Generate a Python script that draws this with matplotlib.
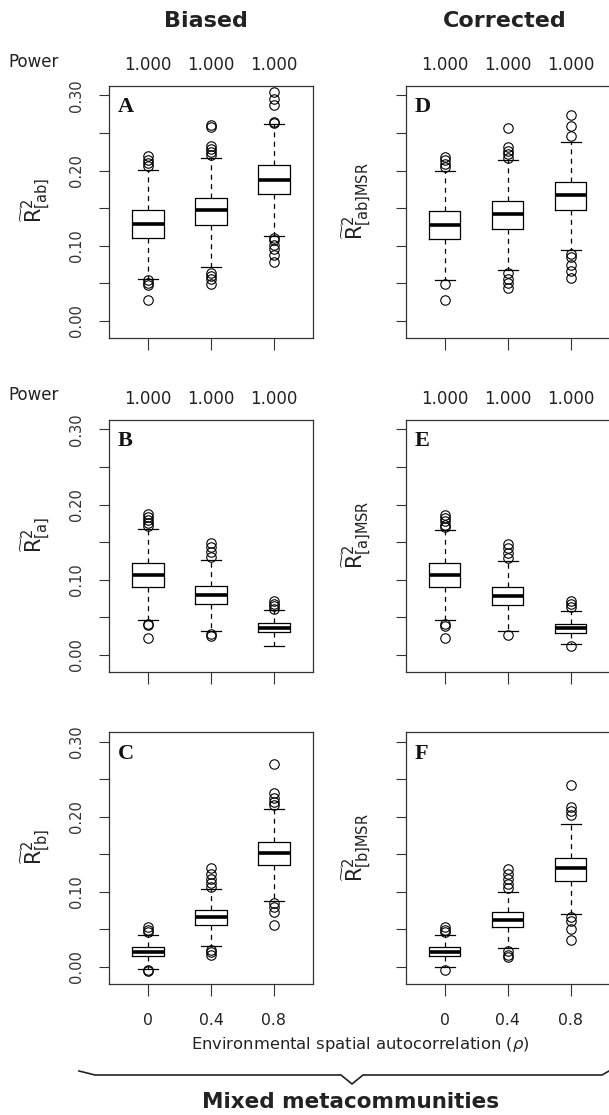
import numpy as np
import matplotlib
matplotlib.use("Agg")
import matplotlib.pyplot as plt
from matplotlib.lines import Line2D

plt.rcParams['font.family'] = ['DejaVu Sans']
plt.rcParams['mathtext.fontset'] = 'dejavusans'

# Panel order: A, B, C (biased) then D, E, F (corrected)
panels = ['A', 'B', 'C', 'D', 'E', 'F']
rho_labels = ['0', '0.4', '0.8']
power = [['1.000', '1.000', '1.000'], ['1.000', '1.000', '1.000'], None,
         ['1.000', '1.000', '1.000'], ['1.000', '1.000', '1.000'], None]
ylabels = [r'$\widetilde{\mathrm{R}}^{2}_{\mathrm{[ab]}}$',
           r'$\widetilde{\mathrm{R}}^{2}_{\mathrm{[a]}}$',
           r'$\widetilde{\mathrm{R}}^{2}_{\mathrm{[b]}}$',
           r'$\widetilde{\mathrm{R}}^{2}_{\mathrm{[ab]MSR}}$',
           r'$\widetilde{\mathrm{R}}^{2}_{\mathrm{[a]MSR}}$',
           r'$\widetilde{\mathrm{R}}^{2}_{\mathrm{[b]MSR}}$']

q1 = [[0.110, 0.127, 0.169], [0.090, 0.067, 0.030], [0.0142, 0.0564, 0.136],
      [0.109, 0.122, 0.148], [0.0895, 0.0662, 0.0291], [0.0142, 0.0531, 0.115]]
med = [[0.129, 0.147, 0.188], [0.1065, 0.079, 0.036], [0.0204, 0.0662, 0.1516],
       [0.128, 0.142, 0.167], [0.1059, 0.0785, 0.0353], [0.0204, 0.0628, 0.1314]]
q3 = [[0.147, 0.164, 0.207], [0.1225, 0.091, 0.042], [0.0267, 0.076, 0.1671],
      [0.146, 0.160, 0.185], [0.1222, 0.0904, 0.041], [0.0261, 0.0726, 0.1456]]
whis_lo = [[0.0556, 0.0716, 0.1133], [0.0466, 0.0315, 0.012], [-0.0022, 0.0284, 0.0876],
           [0.0539, 0.068, 0.0937], [0.0463, 0.0313, 0.0137], [-0.0004, 0.0252, 0.0704]]
whis_hi = [[0.2004, 0.2169, 0.2613], [0.1669, 0.1256, 0.0599], [0.0431, 0.104, 0.2098],
           [0.1993, 0.2143, 0.2386], [0.1663, 0.1248, 0.0587], [0.0429, 0.1004, 0.1898]]
outliers = [
    [[0.219, 0.214, 0.210, 0.206, 0.054, 0.050, 0.047, 0.027],
     [0.260, 0.258, 0.232, 0.228, 0.224, 0.221, 0.064, 0.059, 0.055, 0.049],
     [0.304, 0.295, 0.287, 0.265, 0.263, 0.110, 0.107, 0.101, 0.095, 0.088, 0.078]],
    [[0.188, 0.184, 0.180, 0.176, 0.171, 0.041, 0.039, 0.0226],
     [0.149, 0.144, 0.137, 0.130, 0.027, 0.0244],
     [0.0715, 0.068, 0.0644, 0.061]],
    [[0.0533, 0.0498, 0.0467, -0.0036, -0.0053],
     [0.132, 0.1244, 0.1178, 0.112, 0.1067, 0.0231, 0.020, 0.0156],
     [0.2707, 0.2311, 0.2253, 0.220, 0.2156, 0.0853, 0.080, 0.0733, 0.0564]],
    [[0.218, 0.214, 0.209, 0.205, 0.0486, 0.0274],
     [0.256, 0.231, 0.226, 0.222, 0.217, 0.063, 0.056, 0.050, 0.044],
     [0.274, 0.259, 0.246, 0.089, 0.085, 0.074, 0.066, 0.057]],
    [[0.1866, 0.182, 0.178, 0.173, 0.170, 0.041, 0.0388, 0.0225],
     [0.1478, 0.1425, 0.136, 0.1292, 0.0269],
     [0.071, 0.0675, 0.063, 0.011]],
    [[0.0527, 0.049, 0.046, -0.004],
     [0.130, 0.1235, 0.1168, 0.110, 0.1058, 0.0208, 0.0164, 0.0128],
     [0.242, 0.2128, 0.2075, 0.203, 0.066, 0.0615, 0.0504, 0.0358]],
]

yticks = np.arange(0, 0.301, 0.05)
ytick_labels = ['0.00', '', '0.10', '', '0.20', '', '0.30']

W, H = 609, 1115
fig = plt.figure(figsize=(W / 100, H / 100), dpi=100)

col_x = [109, 405.7]
row_bottom = [338, 672, 984.3]
ax_w, ax_h = 204, 252
axcol = '#333333'
txtcol = '#222222'

for i, name in enumerate(panels):
    col, row = divmod(i, 3)
    ax = fig.add_axes([col_x[col] / W, 1 - row_bottom[row] / H, ax_w / W, ax_h / H])
    stats = []
    for j in range(3):
        stats.append(dict(med=med[i][j], q1=q1[i][j], q3=q3[i][j],
                          whislo=whis_lo[i][j], whishi=whis_hi[i][j],
                          fliers=outliers[i][j]))
    ax.bxp(stats, positions=[1, 2, 3], widths=0.5, capwidths=0.32,
           boxprops=dict(color='black', linewidth=0.9),
           medianprops=dict(color='black', linewidth=2.6),
           whiskerprops=dict(color='black', linewidth=0.9, linestyle=(0, (4, 3.5))),
           capprops=dict(color='black', linewidth=0.9),
           flierprops=dict(marker='o', markersize=6.8, markerfacecolor='none',
                           markeredgecolor='black', markeredgewidth=0.8))
    ax.set_xlim(0.38, 3.62)
    ax.set_ylim(-0.023, 0.3125)
    for sp in ax.spines.values():
        sp.set_color(axcol)
        sp.set_linewidth(0.9)

    ax.set_yticks(yticks)
    ax.set_xticks([1, 2, 3])
    ax.tick_params(axis='y', direction='out', length=7.2, width=0.8, color=axcol,
                   labelsize=10.5, labelcolor='#333333', pad=11)
    ax.tick_params(axis='x', direction='out', length=8.6, width=0.8, color=axcol,
                   labelsize=11.3, labelcolor=txtcol, pad=12)
    if col == 0:
        ax.set_yticklabels(ytick_labels)
        for lab in ax.get_yticklabels():
            lab.set_rotation(90)
            lab.set_va('center')
            lab.set_ha('right')
    else:
        ax.set_yticklabels([])
    if row == 2:
        ax.set_xticklabels(rho_labels)
    else:
        ax.set_xticklabels([])

    ax.text(0.044, 0.955, name, transform=ax.transAxes, ha='left', va='top',
            fontsize=16, fontweight='bold', family='Liberation Serif', color='#111111')

    lab_x = -0.358 if col == 0 else -0.239
    ax.text(lab_x, 0.544, ylabels[i], transform=ax.transAxes, rotation=90,
            ha='center', va='center', fontsize=15, color=txtcol)

    if power[i] is not None:
        tr = ax.get_xaxis_transform()
        for j, p in enumerate(power[i]):
            ax.text(j + 1, 1.085, p, transform=tr, ha='center', va='center',
                    fontsize=12, color=txtcol)

# column titles and row "Power" labels
fig.text(206 / W, 1 - 21 / H, 'Biased', ha='center', va='center',
         fontsize=16, fontweight='bold', color=txtcol)
fig.text(505 / W, 1 - 21 / H, 'Corrected', ha='center', va='center',
         fontsize=16, fontweight='bold', color=txtcol)
for yp in [62, 395]:
    fig.text(8 / W, 1 - yp / H, 'Power', ha='left', va='center', fontsize=12, color=txtcol)

fig.text(360 / W, 1 - 1045 / H, r'Environmental spatial autocorrelation ($\rho$)',
         ha='center', va='center', fontsize=11.8, color=txtcol)

# brace under the panels
bx = np.array([79, 95, 341, 352, 363, 602, 609]) / W
by = 1 - np.array([1071, 1075, 1075, 1084, 1075, 1075, 1071]) / H
fig.add_artist(Line2D(bx, by, transform=fig.transFigure, color='#222222', linewidth=1.2))

fig.text(351 / W, 1 - 1102 / H, 'Mixed metacommunities', ha='center', va='center',
         fontsize=15.5, fontweight='bold', color=txtcol)

fig.savefig('out.png', dpi=100)
